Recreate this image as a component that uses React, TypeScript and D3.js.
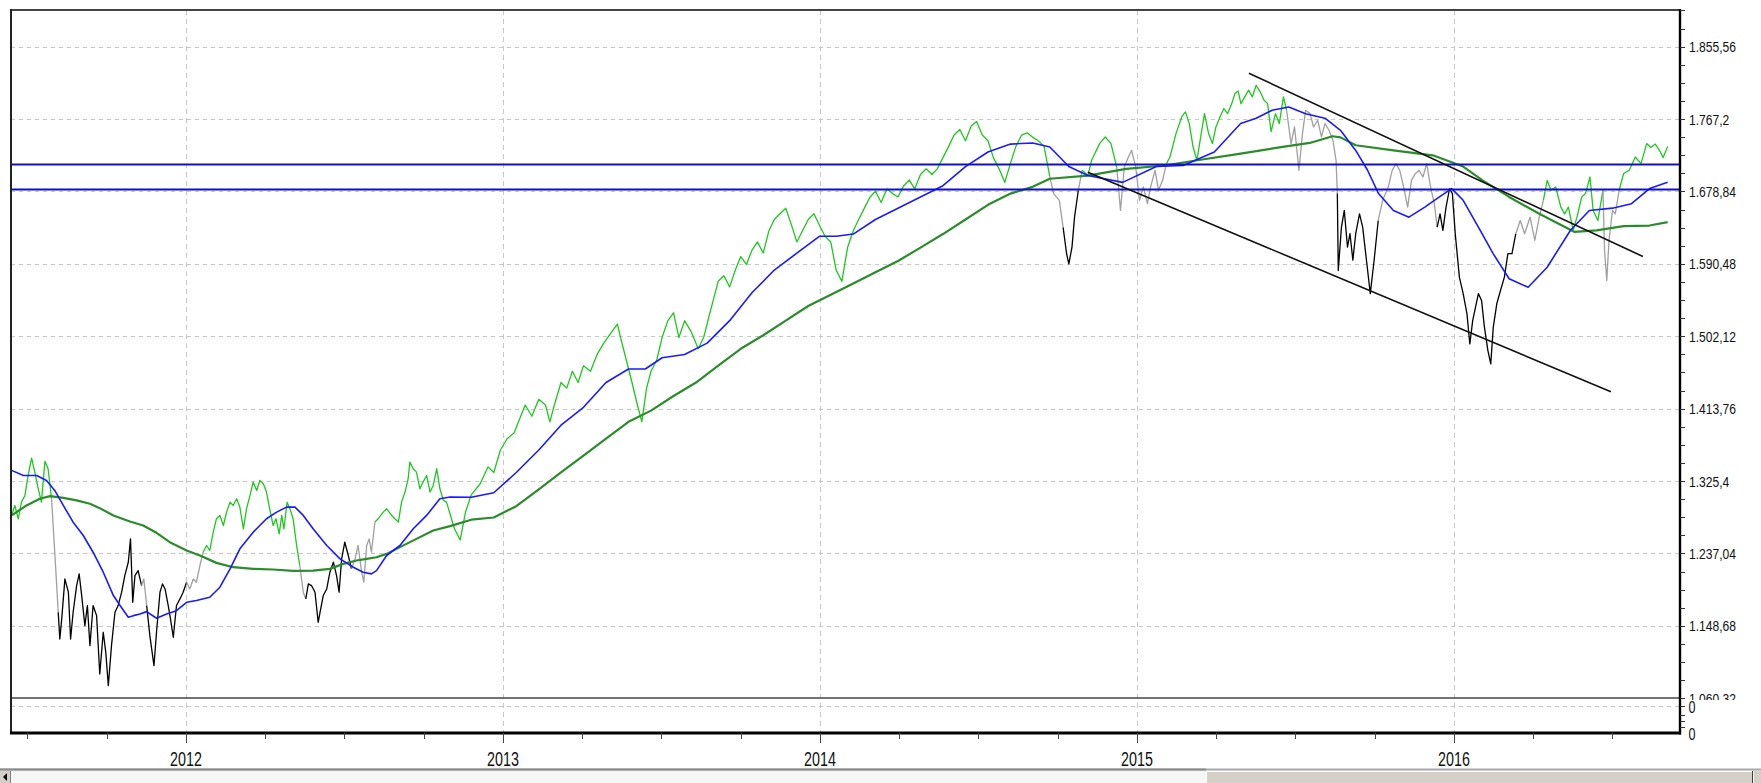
import React from 'react';
import * as d3 from 'd3';

type P = [number, number];

const yTickValues = [1060.32, 1148.68, 1237.04, 1325.4, 1413.76, 1502.12, 1590.48, 1678.84, 1767.2, 1855.56];
const yTickLabels = ['1.060,32', '1.148,68', '1.237,04', '1.325,4', '1.413,76', '1.502,12', '1.590,48', '1.678,84', '1.767,2', '1.855,56'];
const yearTicks = [2012, 2013, 2014, 2015, 2016];
const lowerTickValues = [0, 0.4];
const lowerTickLabels = ['0', '0'];

const price: P[] = [
[2011.450,1283.5],[2011.460,1295.7],[2011.471,1279.4],[2011.481,1299.7],[2011.492,1307.9],[2011.502,1332.3],[2011.513,1353.5],[2011.523,1336.4],[2011.534,1316.0],[2011.544,1299.7],[2011.555,1349.5],[2011.565,1340.5],[2011.576,1303.8],[2011.586,1238.6],[2011.597,1165.3],[2011.602,1132.7],[2011.608,1157.2],[2011.618,1206.0],[2011.629,1189.8],[2011.636,1132.7],[2011.644,1165.3],[2011.655,1197.9],[2011.663,1212.2],[2011.671,1185.7],[2011.681,1149.0],[2011.689,1173.5],[2011.697,1124.6],[2011.707,1173.5],[2011.718,1161.2],[2011.728,1089.9],[2011.739,1140.9],[2011.747,1116.4],[2011.755,1075.7],[2011.765,1124.6],[2011.776,1165.3],[2011.786,1173.5],[2011.797,1189.8],[2011.807,1210.1],[2011.818,1226.4],[2011.825,1254.9],[2011.832,1177.5],[2011.839,1210.1],[2011.849,1216.2],[2011.860,1197.9],[2011.867,1206.0],[2011.876,1173.5],[2011.886,1136.8],[2011.899,1100.1],[2011.907,1140.9],[2011.918,1189.8],[2011.926,1199.9],[2011.934,1193.8],[2011.944,1173.5],[2011.951,1157.2],[2011.960,1134.8],[2011.970,1173.5],[2011.981,1181.6],[2011.991,1189.8],[2012.002,1202.0],[2012.012,1193.8],[2012.023,1206.0],[2012.033,1202.0],[2012.044,1222.4],[2012.054,1238.6],[2012.065,1246.8],[2012.075,1240.7],[2012.086,1263.1],[2012.096,1279.4],[2012.107,1283.5],[2012.118,1271.2],[2012.128,1287.5],[2012.139,1299.7],[2012.149,1295.7],[2012.160,1303.8],[2012.170,1293.6],[2012.181,1267.2],[2012.191,1291.6],[2012.202,1307.9],[2012.212,1324.2],[2012.223,1314.0],[2012.233,1326.2],[2012.244,1322.2],[2012.254,1312.0],[2012.265,1289.6],[2012.275,1271.2],[2012.284,1279.4],[2012.294,1261.1],[2012.302,1283.5],[2012.309,1267.2],[2012.319,1299.7],[2012.328,1291.6],[2012.338,1279.4],[2012.349,1246.8],[2012.359,1222.4],[2012.370,1189.8],[2012.378,1181.6],[2012.386,1199.9],[2012.396,1197.9],[2012.407,1189.8],[2012.417,1153.1],[2012.425,1169.4],[2012.433,1185.7],[2012.444,1193.8],[2012.454,1214.2],[2012.465,1226.4],[2012.475,1210.1],[2012.483,1189.8],[2012.491,1230.5],[2012.501,1250.8],[2012.512,1234.6],[2012.522,1218.3],[2012.533,1230.5],[2012.543,1246.8],[2012.554,1214.2],[2012.561,1202.0],[2012.570,1246.8],[2012.578,1254.9],[2012.585,1238.6],[2012.596,1275.3],[2012.606,1279.4],[2012.622,1287.5],[2012.633,1291.6],[2012.649,1283.5],[2012.659,1279.4],[2012.670,1275.3],[2012.680,1299.7],[2012.691,1312.0],[2012.701,1328.3],[2012.706,1348.6],[2012.717,1340.5],[2012.727,1336.4],[2012.738,1316.0],[2012.748,1324.2],[2012.759,1332.3],[2012.770,1312.0],[2012.780,1320.1],[2012.791,1340.5],[2012.801,1316.0],[2012.812,1301.8],[2012.822,1299.7],
[2012.847,1267.3],[2012.865,1253.6],[2012.882,1287.9],[2012.900,1308.5],[2012.928,1322.2],[2012.953,1342.8],[2012.971,1335.9],[2012.992,1363.4],[2013.013,1377.1],[2013.035,1384.0],[2013.049,1397.7],[2013.070,1418.3],[2013.091,1404.5],[2013.113,1425.3],[2013.134,1418.3],[2013.148,1397.7],[2013.162,1418.3],[2013.183,1445.7],[2013.201,1438.9],[2013.219,1459.5],[2013.237,1445.7],[2013.254,1466.3],[2013.276,1459.5],[2013.297,1480.0],[2013.318,1493.8],[2013.343,1507.5],[2013.361,1517.1],[2013.371,1500.6],[2013.389,1473.2],[2013.407,1445.7],[2013.424,1418.3],[2013.438,1397.7],[2013.453,1438.9],[2013.467,1459.5],[2013.485,1473.2],[2013.502,1500.6],[2013.520,1521.2],[2013.538,1530.8],[2013.555,1500.6],[2013.573,1521.2],[2013.594,1507.5],[2013.616,1486.9],[2013.633,1500.6],[2013.651,1528.1],[2013.665,1548.7],[2013.679,1569.2],[2013.697,1576.1],[2013.715,1562.4],[2013.733,1583.0],[2013.750,1599.5],[2013.768,1589.8],[2013.786,1607.7],[2013.803,1617.3],[2013.821,1603.6],[2013.839,1631.0],[2013.856,1644.7],[2013.874,1651.6],[2013.892,1658.5],[2013.910,1637.9],[2013.927,1617.3],[2013.945,1631.0],[2013.963,1644.7],[2013.981,1651.6],[2013.998,1637.9],[2014.016,1624.2],[2014.034,1617.3],[2014.051,1583.0],[2014.069,1569.2],[2014.087,1610.4],[2014.105,1631.0],[2014.122,1644.7],[2014.140,1658.5],[2014.158,1672.2],[2014.175,1679.1],[2014.193,1665.4],[2014.211,1681.8],[2014.229,1676.3],[2014.246,1672.2],[2014.264,1685.9],[2014.282,1692.8],[2014.299,1681.8],[2014.317,1699.6],[2014.335,1706.5],[2014.353,1699.6],[2014.370,1706.5],[2014.388,1720.2],[2014.406,1733.9],[2014.423,1747.7],[2014.441,1754.5],[2014.459,1740.8],[2014.477,1758.7],[2014.494,1764.2],[2014.512,1747.7],[2014.530,1740.8],[2014.547,1720.2],[2014.565,1706.5],[2014.583,1690.0],[2014.601,1713.4],[2014.618,1733.9],[2014.636,1747.7],[2014.654,1750.4],[2014.671,1744.9],[2014.689,1740.8],[2014.707,1733.9],
[2014.725,1696.9],[2014.737,1676.3],[2014.755,1668.1],[2014.767,1635.1],[2014.778,1602.9],[2014.785,1590.5],[2014.795,1611.0],[2014.803,1647.5],[2014.815,1680.4],[2014.827,1704.7],[2014.845,1698.3],[2014.857,1716.9],[2014.882,1737.3],[2014.900,1745.3],[2014.918,1737.3],[2014.936,1708.7],[2014.948,1655.7],[2014.960,1708.7],[2014.973,1720.9],[2014.983,1729.2],[2014.996,1708.7],[2015.008,1668.1],[2015.020,1684.5],[2015.033,1664.0],[2015.043,1684.5],[2015.057,1704.7],[2015.068,1680.4],[2015.081,1692.8],[2015.093,1712.8],[2015.104,1720.9],[2015.123,1749.5],[2015.141,1769.8],[2015.153,1776.0],[2015.165,1761.7],[2015.177,1733.1],[2015.189,1716.9],[2015.201,1745.4],[2015.213,1773.9],[2015.226,1749.5],[2015.238,1737.3],[2015.249,1757.6],[2015.262,1769.8],[2015.274,1780.1],[2015.286,1773.9],[2015.299,1786.1],[2015.309,1798.5],[2015.319,1801.6],[2015.328,1786.1],[2015.340,1794.4],[2015.352,1802.6],[2015.364,1794.4],[2015.376,1808.5],[2015.389,1800.4],[2015.401,1790.2],[2015.412,1786.1],[2015.423,1751.8],[2015.437,1773.8],[2015.449,1761.7],[2015.462,1794.4],[2015.472,1777.9],[2015.486,1737.3],[2015.497,1757.6],[2015.511,1704.7],[2015.522,1749.5],[2015.532,1777.9],[2015.546,1773.9],[2015.557,1757.6],[2015.570,1765.8],[2015.582,1745.4],[2015.593,1761.7],[2015.606,1753.6],[2015.618,1741.4],[2015.628,1716.9],[2015.632,1676.3],[2015.635,1582.4],[2015.645,1635.4],[2015.654,1655.7],[2015.664,1611.0],[2015.672,1627.3],[2015.681,1595.0],[2015.690,1627.3],[2015.702,1651.6],[2015.712,1635.4],[2015.724,1594.6],[2015.736,1554.2],[2015.748,1594.6],[2015.761,1643.5],[2015.775,1668.1],[2015.793,1684.5],[2015.805,1704.7],[2015.817,1712.8],[2015.829,1704.7],[2015.841,1684.5],[2015.854,1659.8],[2015.866,1692.8],[2015.878,1700.6],[2015.890,1704.7],[2015.902,1696.5],[2015.914,1712.8],[2015.926,1684.5],[2015.938,1664.0],[2015.947,1635.4],[2015.956,1651.6],[2015.965,1631.3],[2015.975,1659.8],[2015.986,1682.2],[2015.995,1676.3],[2016.004,1627.3],[2016.017,1574.3],[2016.029,1554.2],[2016.041,1529.4],[2016.050,1492.8],[2016.059,1521.2],[2016.068,1537.7],[2016.077,1554.2],[2016.087,1545.9],[2016.096,1513.3],[2016.107,1484.7],[2016.116,1468.4],[2016.124,1513.3],[2016.135,1541.8],[2016.147,1558.3],[2016.159,1574.3],[2016.170,1602.9],[2016.183,1602.9],[2016.195,1627.3],[2016.209,1643.5],[2016.223,1627.3],[2016.240,1647.5],[2016.255,1619.1],[2016.269,1647.5],[2016.282,1668.1],[2016.294,1692.5],[2016.306,1680.4],[2016.321,1684.3],[2016.337,1659.8],[2016.349,1651.6],[2016.361,1659.8],[2016.376,1631.3],[2016.388,1647.5],[2016.403,1672.2],[2016.415,1676.3],[2016.429,1696.5],[2016.439,1655.7],[2016.454,1643.5],[2016.470,1680.4],[2016.475,1606.9],[2016.482,1570.2],[2016.489,1619.1],[2016.500,1655.7],[2016.509,1651.6],[2016.521,1680.4],[2016.535,1700.6],[2016.553,1704.7],[2016.572,1720.9],[2016.590,1712.8],[2016.608,1737.3],[2016.621,1732.6],[2016.635,1736.7],[2016.649,1728.5],[2016.660,1720.2],[2016.674,1733.9]
];

const maShort: P[] = [
[2011.450,1338.5],[2011.487,1332.3],[2011.529,1332.3],[2011.560,1326.2],[2011.586,1314.0],[2011.613,1295.7],[2011.644,1275.3],[2011.676,1259.0],[2011.707,1238.6],[2011.739,1214.2],[2011.771,1185.7],[2011.792,1173.5],[2011.818,1159.2],[2011.834,1161.2],[2011.855,1163.3],[2011.876,1166.1],[2011.907,1158.0],[2011.939,1163.3],[2011.970,1167.3],[2012.002,1177.5],[2012.033,1179.6],[2012.075,1183.6],[2012.107,1195.9],[2012.139,1218.3],[2012.170,1242.7],[2012.212,1263.1],[2012.254,1279.4],[2012.286,1287.5],[2012.317,1293.6],[2012.344,1293.6],[2012.370,1283.5],[2012.401,1267.2],[2012.444,1246.8],[2012.486,1230.5],[2012.528,1220.3],[2012.559,1214.2],[2012.585,1212.2],[2012.601,1216.2],[2012.633,1234.6],[2012.675,1246.8],[2012.717,1267.2],[2012.759,1283.5],[2012.801,1303.8],[2012.833,1305.9],[2012.900,1305.7],[2012.971,1311.2],[2013.042,1335.9],[2013.113,1363.4],[2013.183,1393.6],[2013.254,1415.5],[2013.325,1445.7],[2013.396,1462.2],[2013.449,1462.2],[2013.502,1475.9],[2013.573,1480.0],[2013.644,1493.8],[2013.715,1521.2],[2013.786,1555.5],[2013.856,1583.0],[2013.927,1603.6],[2013.998,1624.2],[2014.051,1624.2],[2014.105,1626.9],[2014.175,1644.7],[2014.246,1658.5],[2014.317,1672.2],[2014.388,1685.9],[2014.459,1709.2],[2014.530,1727.1],[2014.601,1736.7],[2014.671,1738.1],[2014.725,1733.1],[2014.785,1709.3],[2014.845,1698.3],[2014.955,1690.0],[2015.061,1709.3],[2015.146,1710.6],[2015.244,1727.1],[2015.327,1761.8],[2015.376,1768.3],[2015.426,1777.9],[2015.479,1782.0],[2015.532,1773.8],[2015.593,1768.3],[2015.642,1753.5],[2015.690,1729.0],[2015.727,1705.1],[2015.762,1676.3],[2015.809,1655.7],[2015.858,1647.5],[2015.908,1659.8],[2015.954,1672.2],[2015.993,1682.3],[2016.029,1668.1],[2016.077,1635.4],[2016.124,1602.8],[2016.174,1572.3],[2016.234,1562.0],[2016.294,1586.4],[2016.367,1631.3],[2016.427,1655.7],[2016.500,1658.5],[2016.560,1664.0],[2016.617,1682.4],[2016.674,1690.0]
];

const maLong: P[] = [
[2011.450,1283.5],[2011.497,1295.7],[2011.539,1303.8],[2011.571,1307.1],[2011.613,1305.0],[2011.655,1301.8],[2011.697,1297.7],[2011.728,1292.4],[2011.771,1283.5],[2011.823,1276.1],[2011.865,1271.2],[2011.907,1262.3],[2011.949,1250.8],[2012.002,1240.7],[2012.044,1234.6],[2012.096,1225.6],[2012.149,1220.3],[2012.212,1218.3],[2012.275,1217.5],[2012.338,1215.8],[2012.401,1216.2],[2012.454,1218.3],[2012.496,1224.4],[2012.538,1228.5],[2012.570,1230.5],[2012.601,1232.5],[2012.633,1236.6],[2012.675,1244.8],[2012.727,1254.9],[2012.780,1265.1],[2012.833,1270.4],[2012.900,1278.3],[2012.971,1281.0],[2013.042,1294.8],[2013.113,1315.4],[2013.183,1335.9],[2013.254,1356.5],[2013.325,1377.1],[2013.396,1397.7],[2013.467,1411.4],[2013.538,1429.3],[2013.609,1445.7],[2013.679,1466.3],[2013.750,1486.9],[2013.821,1503.4],[2013.892,1521.2],[2013.963,1539.1],[2014.034,1552.8],[2014.105,1566.5],[2014.175,1580.2],[2014.246,1594.0],[2014.317,1610.4],[2014.388,1626.9],[2014.459,1644.7],[2014.530,1662.6],[2014.601,1676.3],[2014.671,1684.5],[2014.725,1694.4],[2014.845,1698.3],[2014.966,1706.5],[2015.086,1710.6],[2015.206,1717.9],[2015.327,1725.0],[2015.449,1732.6],[2015.545,1738.1],[2015.617,1746.3],[2015.642,1744.9],[2015.690,1735.3],[2015.809,1729.0],[2015.933,1723.0],[2016.029,1709.3],[2016.089,1692.8],[2016.174,1672.2],[2016.269,1651.6],[2016.379,1629.6],[2016.450,1631.3],[2016.535,1636.5],[2016.617,1637.3],[2016.674,1641.5]
];

// price colouring regimes: up = green, mid = grey, down = black
const regimes: [number, string][] = [
[2011.40,'up'],[2011.576,'mid'],[2011.597,'down'],[2011.860,'mid'],[2011.876,'down'],[2012.002,'mid'],[2012.054,'up'],[2012.359,'mid'],[2012.378,'down'],[2012.522,'mid'],[2012.596,'up'],[2014.725,'mid'],[2014.767,'down'],[2014.815,'mid'],[2014.827,'up'],[2014.936,'mid'],[2015.093,'up'],[2015.472,'mid'],[2015.632,'down'],[2015.761,'mid'],[2015.947,'down'],[2016.195,'mid'],[2016.282,'up'],[2016.470,'mid'],[2016.521,'up']
];

const levels = [1711.9, 1681.4];
const trendUpper: P[] = [[2015.353, 1823.2], [2016.596, 1599.5]];
const trendLower: P[] = [[2014.845, 1702.2], [2016.495, 1434.5]];

const W = 1761, H = 783;
const L = 11, R = 1680, T = 10, MB = 698, LB = 733;
const FONT = 'Liberation Sans, Arial, sans-serif';

const stateColor: Record<string, string> = { up: '#1ec81e', mid: '#a0a0a0', down: '#000000' };

export default function App() {
  const x = d3.scaleLinear().domain([2011.448, 2016.713]).range([L, R]);
  const y = d3.scaleLinear().domain([1060.32, 1855.56]).range([698.3, 46.7]);
  const yl = d3.scaleLinear().domain([0, 0.4]).range([734, 706.5]);
  const line = d3.line<P>().x(d => x(d[0])).y(d => y(d[1]));

  const stateAt = (t: number) => {
    let s = regimes[0][1];
    for (const r of regimes) if (t >= r[0] - 0.0005) s = r[1];
    return s;
  };
  const runs: { s: string; pts: P[] }[] = [];
  let cur: { s: string; pts: P[] } | null = null;
  for (let i = 0; i < price.length - 1; i++) {
    const s = stateAt(price[i][0]);
    if (!cur || cur.s !== s) { cur = { s, pts: [price[i]] }; runs.push(cur); }
    cur.pts.push(price[i + 1]);
  }

  const quarterTicks = d3.range(2011.5, 2016.75, 0.25).filter(q => Math.abs(q - Math.round(q)) > 0.01 && x(q) > L && x(q) < R);
  const step = (yTickValues[1] - yTickValues[0]) / 4;
  const minorY = d3.range(0, 45).map(i => yTickValues[0] + i * step).filter(v => y(v) >= T - 0.5 && y(v) <= MB + 0.5);

  return (
    <svg width={W} height={H} style={{ position: 'absolute', left: 0, top: 0, background: '#fff' }}>
      <defs>
        <clipPath id="plot"><rect x={L} y={T} width={R - L} height={MB - T} /></clipPath>
        <clipPath id="lab"><rect x={R} y={0} width={W - R} height={700} /></clipPath>
      </defs>
      <rect x={0} y={0} width={W} height={H} fill="#ffffff" />
      {/* grid */}
      {yTickValues.slice(1).map(v => (
        <line key={'gy' + v} x1={L} x2={R} y1={Math.round(y(v)) + 0.5} y2={Math.round(y(v)) + 0.5} stroke="#c8c8c8" strokeDasharray="4,4" />
      ))}
      <line x1={L} x2={R} y1={yl(0.4)} y2={yl(0.4)} stroke="#c8c8c8" strokeDasharray="4,4" />
      {yearTicks.map(t => (
        <line key={'gx' + t} x1={Math.round(x(t)) + 0.5} x2={Math.round(x(t)) + 0.5} y1={T} y2={LB} stroke="#c8c8c8" strokeDasharray="5,4" />
      ))}
      <g clipPath="url(#plot)">
        {runs.map((r, i) => (
          <path key={'run' + i} d={line(r.pts) || ''} fill="none" stroke={stateColor[r.s]} strokeWidth={1.3} strokeLinejoin="round" />
        ))}
        <path d={line(maLong) || ''} fill="none" stroke="#2a8c2a" strokeWidth={2.2} strokeLinejoin="round" />
        <path d={line(maShort) || ''} fill="none" stroke="#1a1aff" strokeWidth={1.6} strokeLinejoin="round" />
        {levels.map(v => (
          <line key={'lv' + v} x1={L} x2={R} y1={y(v)} y2={y(v)} stroke="#1010c8" strokeWidth={2} />
        ))}
        <path d={line(trendUpper) || ''} fill="none" stroke="#111" strokeWidth={1.6} />
        <path d={line(trendLower) || ''} fill="none" stroke="#111" strokeWidth={1.6} />
      </g>
      {/* frame */}
      <line x1={L} x2={R} y1={T} y2={T} stroke="#444" strokeWidth={2} />
      <line x1={L} x2={R} y1={MB} y2={MB} stroke="#444" strokeWidth={1.6} />
      <line x1={L} x2={L} y1={T - 1} y2={LB} stroke="#222" strokeWidth={2} />
      <line x1={L - 1} x2={R + 1} y1={LB} y2={LB} stroke="#000" strokeWidth={3} />
      <line x1={R} x2={R} y1={T - 1} y2={LB + 1.5} stroke="#000" strokeWidth={2.4} />
      {/* right axis ticks */}
      {minorY.map(v => (
        <line key={'my' + v} x1={R} x2={R + 5} y1={Math.round(y(v)) + 0.5} y2={Math.round(y(v)) + 0.5} stroke="#333" strokeWidth={1} />
      ))}
      {[706.5, 715.5, 721.5, 727.5].map(v => (
        <line key={'ly' + v} x1={R} x2={R + 5} y1={v} y2={v} stroke="#333" strokeWidth={1} />
      ))}
      <g clipPath="url(#lab)">
        {yTickValues.map((v, i) => (
          <text key={'yl' + v} transform={`translate(${R + 9},${y(v) + 5.5}) scale(0.785,1)`} fontSize={15.4} fontFamily={FONT} fill="#111">{yTickLabels[i]}</text>
        ))}
      </g>
      {lowerTickValues.map((v, i) => (
        <text key={'ll' + i} transform={`translate(${R + 8.5},${yl(v) + 6}) scale(0.75,1)`} fontSize={16.8} fontFamily={FONT} fill="#111">{lowerTickLabels[i]}</text>
      ))}
      {/* bottom axis */}
      {quarterTicks.map(q => (
        <line key={'qt' + q} x1={Math.round(x(q)) + 0.5} x2={Math.round(x(q)) + 0.5} y1={LB} y2={LB + 6} stroke="#444" strokeWidth={1} />
      ))}
      {yearTicks.map(t => (
        <g key={'yt' + t}>
          <line x1={Math.round(x(t)) + 0.5} x2={Math.round(x(t)) + 0.5} y1={LB} y2={LB + 10} stroke="#444" strokeWidth={1} />
          <text transform={`translate(${x(t)},766) scale(0.72,1)`} textAnchor="middle" fontSize={19.9} fontFamily={FONT} fill="#111">{t}</text>
        </g>
      ))}
      {/* scrollbar */}
      <rect x={0} y={770} width={W} height={13} fill="#f6f6f6" />
      <line x1={0} x2={W} y1={769.5} y2={769.5} stroke="#a8a8a8" strokeWidth={2} />
      <line x1={0} x2={1206} y1={769.5} y2={769.5} stroke="#8c8c8c" strokeWidth={2} />
      <rect x={0} y={771} width={10} height={12} fill="#d4d0c8" />
      <line x1={10.5} x2={10.5} y1={771} y2={783} stroke="#808080" />
      <path d="M3,777 L7,773 L7,781 Z" fill="#000" />
      <rect x={1206} y={771} width={546} height={12} fill="#d4d0c8" />
      <line x1={1206.5} x2={1206.5} y1={771} y2={783} stroke="#ffffff" />
      <line x1={1206} x2={1752} y1={771.5} y2={771.5} stroke="#ffffff" />
      <line x1={1752.5} x2={1752.5} y1={771} y2={783} stroke="#404040" />
      <rect x={1754} y={771} width={7} height={12} fill="#d4d0c8" />
    </svg>
  );
}
